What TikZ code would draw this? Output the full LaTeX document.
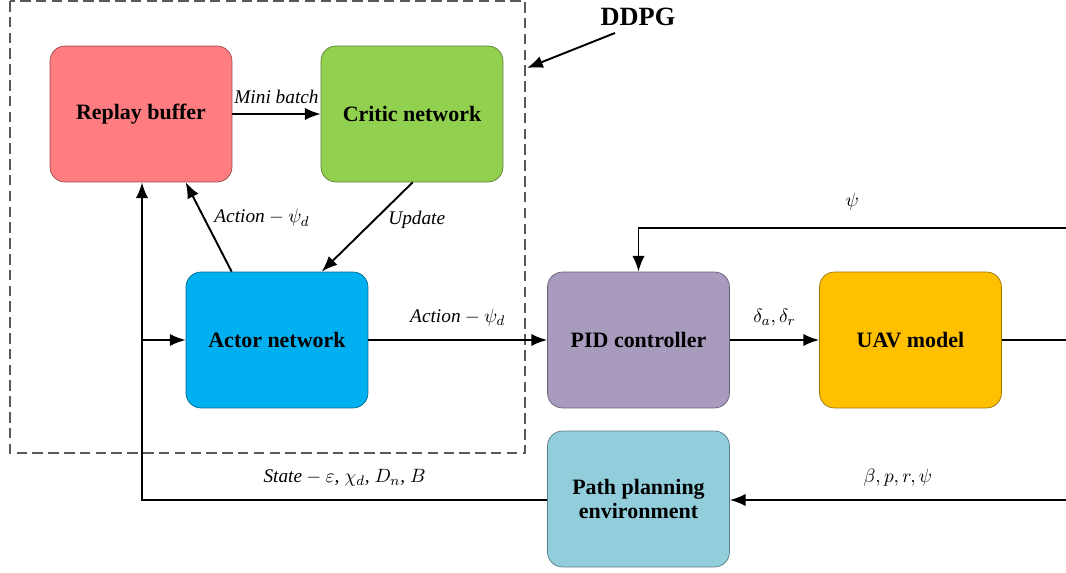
\documentclass[tikz,border=0pt]{standalone}
\usepackage{fontspec}
\setmainfont{Liberation Serif}
\usetikzlibrary{calc,arrows.meta}
\definecolor{replayred}{RGB}{255,124,128}
\definecolor{criticgreen}{RGB}{146,208,80}
\definecolor{actorblue}{RGB}{0,176,240}
\definecolor{pidpurple}{RGB}{169,155,189}
\definecolor{uavorange}{RGB}{255,192,0}
\definecolor{envblue}{RGB}{146,205,220}
\tikzset{
    block/.style={draw=#1!60!black, fill=#1, rounded corners=0.3cm, minimum width=3.64cm,
        minimum height=2.72cm, align=center, font=\bfseries\fontsize{12.5}{14}\selectfont},
    flow/.style={line width=1.1pt, -{Latex[length=9pt,width=7pt]}},
    tag/.style={font=\itshape\fontsize{11}{13}\selectfont}
}
\begin{document}
\begin{tikzpicture}[x=0.02cm,y=-0.02cm]
    \useasboundingbox (0,0) rectangle (1066,573);
    % DDPG frame
    \draw[gray!70!black, dashed, line width=0.8pt, dash pattern=on 6pt off 3pt] (10,1) rectangle (525,453);
    \node[font=\bfseries\fontsize{15}{17}\selectfont] (ddpg) at (638,17) {DDPG};
    \coordinate (ddpgtail) at (615,33);
    \coordinate (ddpghead) at (527,68);
    \draw[flow] (ddpgtail) -- (ddpghead);
    % blocks
    \node[block=replayred] (replay) at (141,114) {Replay buffer};
    \node[block=criticgreen] (critic) at (412,114) {Critic network};
    \node[block=actorblue] (actor) at (277,340) {Actor network};
    \node[block=pidpurple] (pid) at (638.5,340) {PID controller};
    \node[block=uavorange] (uav) at (910.5,340) {UAV model};
    \node[block=envblue] (env) at (638.5,499) {Path planning\\environment};
    % edge of picture
    \coordinate (psiin) at (1066,228);
    \coordinate (uavout) at (1066,340);
    \coordinate (statein) at (1066,500);
    \coordinate (bend) at (142,500);
    \coordinate (split) at (142,340);
    % connectors
    \draw[flow] (replay) -- node[tag, above, yshift=2pt] {Mini batch} (critic);
    \draw[flow] ($(critic.south west)+(92,0)$) -- node[tag, right, pos=0.42, xshift=4pt] {Update} ($(actor.north west)+(136,0)$);
    \draw[flow] ($(actor.north west)+(46,0)$) -- node[tag, right, pos=0.6, xshift=2pt] {Action${}-\psi_d$} ($(replay.south west)+(136,0)$);
    \draw[flow] (actor) -- node[tag, above, yshift=4pt] {Action${}-\psi_d$} (pid);
    \draw[flow] (pid) -- node[tag, above, yshift=4pt] {$\delta_a, \delta_r$} (uav);
    \draw[line width=1.1pt] (uav) -- (uavout);
    \draw[flow] (psiin) -- node[tag, above, yshift=6pt] {$\psi$} (psiin -| pid) -- (pid);
    \draw[flow] (statein) -- node[tag, above, yshift=4pt] {$\beta, p, r, \psi$} (env.east |- statein);
    \draw[flow] (env.west |- bend) -- node[tag, above, yshift=4pt] {State${}-\varepsilon$, $\chi_d$, $D_n$, $B$} (bend) -- (bend |- replay.south);
    \draw[flow] (split) -- (actor);
\end{tikzpicture}
\end{document}
